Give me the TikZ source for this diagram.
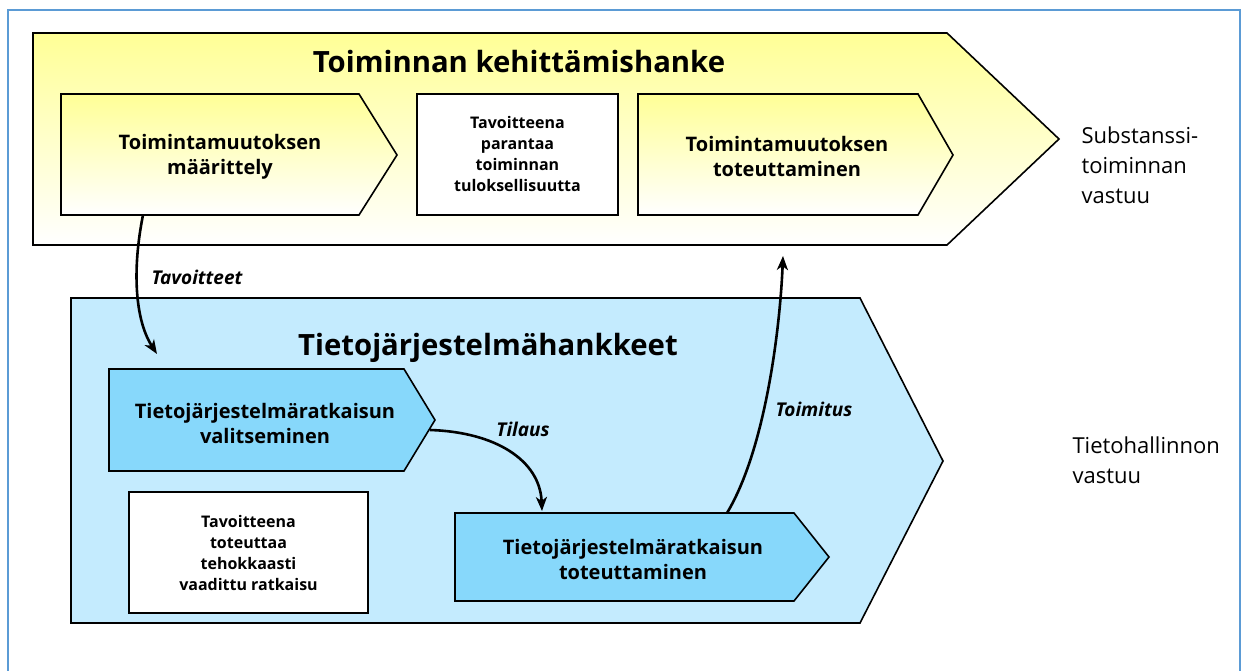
\documentclass[tikz,border=0pt]{standalone}
\usepackage{fontspec}
\setmainfont{Open Sans}
\usetikzlibrary{arrows.meta}
\definecolor{paleyellow}{RGB}{255,255,150}
\definecolor{skyfill}{RGB}{196,235,254}
\definecolor{skybox}{RGB}{135,216,251}
\definecolor{framecol}{RGB}{91,155,213}

\begin{document}
\begin{tikzpicture}[x=1pt,y=-1pt,
  yellow_shape/.style={draw=black,line width=1.6pt,top color=paleyellow,bottom color=white},
  blue_shape/.style={draw=black,line width=1.6pt,fill=skyfill},
  blue_chev/.style={draw=black,line width=1.6pt,fill=skybox},
  goal_box/.style={draw=black,line width=1.6pt,fill=white,align=center,inner sep=0pt,font=\bfseries\fontsize{16}{21}\selectfont},
  title_text/.style={font=\bfseries\fontsize{29.3}{34}\selectfont},
  chev_text/.style={align=center,font=\bfseries\fontsize{20}{25}\selectfont},
  side_text/.style={align=left,anchor=west,font=\fontsize{22}{30}\selectfont},
  flow_label/.style={font=\bfseries\itshape\fontsize{19}{20}\selectfont},
  flow/.style={line width=2.6pt,-{Stealth[length=14pt,width=11pt,inset=4pt]}}]

  \useasboundingbox (0,0) rectangle (1243,671);
  % frame
  \draw[framecol,line width=1.2pt] (8,671) -- (8,10) -- (1240,10) -- (1240,671);

  % upper band
  \draw[yellow_shape] (33,33) -- (947,33) -- (1059,139) -- (947,245) -- (33,245) -- cycle;
  \node[title_text] (kehitys) at (519,62) {Toiminnan kehittämishanke};
  \draw[yellow_shape] (61,94) -- (359,94) -- (397,155) -- (359,215) -- (61,215) -- cycle;
  \node[chev_text] (maar) at (220,157) {Toimintamuutoksen\\määrittely};
  \node[goal_box,minimum width=201pt,minimum height=121pt] (goal1) at (517.5,154.5)
    {Tavoitteena\\parantaa\\toiminnan\\tuloksellisuutta};
  \draw[yellow_shape] (638,94) -- (918,94) -- (953,155) -- (918,215) -- (638,215) -- cycle;
  \node[chev_text] (toteutus) at (787,157) {Toimintamuutoksen\\toteuttaminen};
  \node[side_text] (subst) at (1078,165) {Substanssi-\\toiminnan\\vastuu};

  % lower band
  \draw[blue_shape] (71,298) -- (860,298) -- (943,461) -- (860,623) -- (71,623) -- cycle;
  \node[title_text] (hankkeet) at (488,348) {Tietojärjestelmähankkeet};
  \draw[blue_chev] (109,369) -- (404,369) -- (435,420) -- (404,471) -- (109,471) -- cycle;
  \node[chev_text] (valinta) at (265,423) {Tietojärjestelmäratkaisun\\valitseminen};
  \node[goal_box,minimum width=239pt,minimum height=121pt] (goal2) at (248.5,552.5)
    {Tavoitteena\\toteuttaa\\tehokkaasti\\vaadittu ratkaisu};
  \draw[blue_chev] (455,513) -- (794,513) -- (829,557) -- (794,601) -- (455,601) -- cycle;
  \node[chev_text] (rakennus) at (633,559) {Tietojärjestelmäratkaisun\\toteuttaminen};
  \node[side_text] (tieto) at (1069,460) {Tietohallinnon\\vastuu};

  % flows
  \coordinate (tav_a) at (143,215);
  \coordinate (tav_b) at (157,354);
  \coordinate (til_a) at (430,430);
  \coordinate (til_b) at (542,511);
  \coordinate (toi_a) at (727,513);
  \coordinate (toi_b) at (783,256);
  \draw[flow] (tav_a) .. controls (132,270) and (135,320) .. (tav_b);
  \draw[flow] (til_a) .. controls (495,432) and (540,460) .. (til_b);
  \draw[flow] (toi_a) .. controls (765,450) and (780,330) .. (toi_b);
  \node[flow_label] (tavoitteet) at (197,277) {Tavoitteet};
  \node[flow_label] (tilaus) at (523,429) {Tilaus};
  \node[flow_label] (toimitus) at (814,409) {Toimitus};
\end{tikzpicture}
\end{document}
